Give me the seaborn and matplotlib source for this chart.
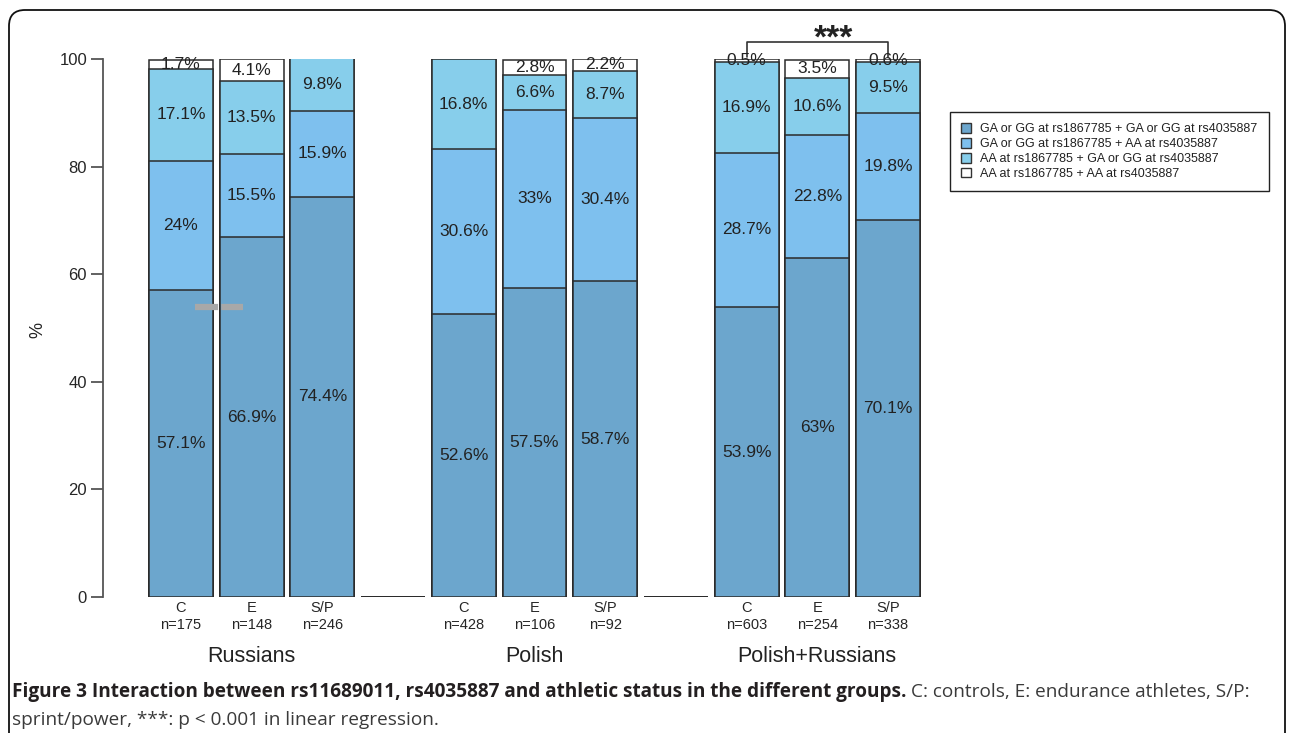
import numpy as np
import pandas as pd
import matplotlib
matplotlib.use("Agg")
import matplotlib.pyplot as plt
import seaborn as sns
from matplotlib.patches import Patch, FancyBboxPatch
from matplotlib.transforms import IdentityTransform

# ---------------- data ----------------
groups = ["Russians", "Polish", "Polish+Russians"]
statuses = ["C", "E", "S/P"]
sample_sizes = [[175, 148, 246], [428, 106, 92], [603, 254, 338]]

# percentages of each genotype combination, per bar (bottom -> top)
ga_ga = [57.1, 66.9, 74.4, 52.6, 57.5, 58.7, 53.9, 63.0, 70.1]
ga_aa = [24.0, 15.5, 15.9, 30.6, 33.0, 30.4, 28.7, 22.8, 19.8]
aa_ga = [17.1, 13.5, 9.8, 16.8, 6.6, 8.7, 16.9, 10.6, 9.5]
aa_aa = [1.7, 4.1, 0.0, 0.0, 2.8, 2.2, 0.5, 3.5, 0.6]

legend_labels = [
    "GA or GG at rs1867785 + GA or GG at rs4035887",
    "GA or GG at rs1867785 + AA at rs4035887",
    "AA at rs1867785 + GA or GG at rs4035887",
    "AA at rs1867785 + AA at rs4035887",
]
y_ticks = [0, 20, 40, 60, 80, 100]
caption_bold = ("Figure 3 Interaction between rs11689011, rs4035887 and "
                "athletic status in the different groups.")
caption_reg1 = "C: controls, E: endurance athletes, S/P:"
caption_reg2 = "sprint/power, ***: p < 0.001 in linear regression."

# ---------------- styling ----------------
colors = ["#6CA6CD", "#7EC0EE", "#87CEEB", "#FFFFFF"]
edge = "#2b2b2b"
W, H, DPI = 1295, 733, 100

sns.set_style("white")
plt.rcParams["font.family"] = ["Liberation Sans", "DejaVu Sans"]
plt.rcParams["text.color"] = "#222222"

# ---------------- table ----------------
layers = [ga_ga, ga_aa, aa_ga, aa_aa]
order = []
rows = []
bi = 0
for gi, g in enumerate(groups):
    for si, s in enumerate(statuses):
        name = f"{g}|{s}"
        order.append(name)
        cum = 0.0
        for k, lay in enumerate(layers):
            v = lay[bi]
            rows.append(dict(bar=name, layer=k, value=v, bottom=cum, cum=cum + v))
            cum += v
        bi += 1
    if gi < len(groups) - 1:
        name = f"gap{gi}"
        order.append(name)
        for k in range(len(layers)):
            rows.append(dict(bar=name, layer=k, value=0.0, bottom=0.0, cum=0.0))
df = pd.DataFrame(rows)

# ---------------- figure ----------------
fig = plt.figure(figsize=(W / DPI, H / DPI), dpi=DPI)
ax_l, ax_r, ax_t, ax_b = 103, 930, 59, 597
ax = fig.add_axes([ax_l / W, 1 - ax_b / H, (ax_r - ax_l) / W, (ax_b - ax_t) / H])

for k in reversed(range(len(layers))):
    sns.barplot(data=df[df.layer == k], x="bar", y="cum", order=order,
                color=colors[k], saturation=1, width=0.905, errorbar=None,
                edgecolor=edge, linewidth=1.1, ax=ax)

# pixel-to-data mapping along x: slot spacing 70.7 px, first center at 181 px
slot = 70.7
ax.set_xlim((ax_l - 181) / slot, (ax_r - 181) / slot)
ax.set_ylim(0, 100)

# segment labels
for _, r in df.iterrows():
    if r.value > 0:
        ax.text(order.index(r.bar), r.bottom + r.value / 2, f"{r.value:g}%",
                ha="center", va="center", fontsize=12.5, color="#222222")

# x tick labels
tick_labels = []
for name in order:
    if name.startswith("gap"):
        tick_labels.append("")
    else:
        g, s = name.split("|")
        n = sample_sizes[groups.index(g)][statuses.index(s)]
        tick_labels.append(f"{s}\nn={n}")
ax.set_xticks(range(len(order)))
ax.set_xticklabels(tick_labels, fontsize=10.5)
for lbl in ax.get_xticklabels():
    lbl.set_linespacing(1.3)
ax.tick_params(axis="x", length=0, pad=3)

# y axis
ax.set_yticks(y_ticks)
ax.set_yticklabels([str(t) for t in y_ticks], fontsize=12)
ax.tick_params(axis="y", length=8.5, width=1.3, color="#555555", pad=3,
               left=True)
for sp in ["top", "right", "bottom"]:
    ax.spines[sp].set_visible(False)
ax.spines["left"].set_bounds(0, 100)
ax.spines["left"].set_color("#555555")
ax.spines["left"].set_linewidth(1.3)
ax.set_xlabel("")
ax.set_ylabel("")
fig.text(38 / W, 1 - 330 / H, "%", rotation=90, ha="center", va="center",
         fontsize=13)

# group labels
for gi, g in enumerate(groups):
    center = order.index(f"{g}|{statuses[1]}")
    ax.annotate(g, xy=(center, 0), xycoords=("data", "axes fraction"),
                xytext=(0, -43), textcoords="offset points",
                ha="center", va="center", fontsize=15.5, color="#222222")

# significance bracket
c_pos = order.index("Polish+Russians|C")
sp_pos = order.index("Polish+Russians|S/P")
ax.plot([c_pos, c_pos, sp_pos, sp_pos], [100.4, 103.2, 103.2, 100.4],
        color="#333333", lw=1.2, clip_on=False)
ax.text((c_pos + sp_pos) / 2 + 0.23, 103.7, "***", ha="center", va="center",
        fontsize=24, fontweight="bold", color="#222222", clip_on=False)

# scan artefact (grey dash) seen in the original figure
ax.plot([0.2, 0.88], [53.9, 53.9], color="#a8a8a8", lw=4.5,
        dashes=(3.7, 0.5), solid_capstyle="butt", dash_capstyle="butt")

# legend
handles = [Patch(facecolor=c, edgecolor="#333333", linewidth=1) for c in colors]
leg = fig.legend(handles, legend_labels, loc="upper left",
                 bbox_to_anchor=(950 / W, 1 - 112 / H), fontsize=9,
                 frameon=True, fancybox=False, edgecolor="#222222",
                 framealpha=1, handlelength=0.8, handleheight=0.8,
                 handletextpad=0.7, labelspacing=0.22, borderpad=0.9,
                 borderaxespad=0)
leg.get_frame().set_linewidth(1.0)

# caption
cap_fs = 13.7
t1 = fig.text(12 / W, 1 - 697 / H, caption_bold, fontsize=cap_fs,
              fontweight="bold", family=["Open Sans", "DejaVu Sans"],
              color="#231f20", va="baseline", ha="left")
fig.text(12 / W, 1 - 725 / H, caption_reg2, fontsize=cap_fs,
         family=["Open Sans", "DejaVu Sans"], color="#3a3a3a",
         va="baseline", ha="left")
fig.canvas.draw()
r = fig.canvas.get_renderer()
bb = t1.get_window_extent(r)
fig.text((bb.x1 + 5) / W, 1 - 697 / H, caption_reg1, fontsize=cap_fs,
         family=["Open Sans", "DejaVu Sans"], color="#3a3a3a",
         va="baseline", ha="left")

# outer rounded frame
frame = FancyBboxPatch((9, -30), 1276, 733 - 10 + 30,
                       boxstyle="round,pad=0,rounding_size=16",
                       transform=IdentityTransform(), facecolor="none",
                       edgecolor="#111111", linewidth=1.3)
fig.patches.append(frame)

fig.savefig("out.png", dpi=DPI)
